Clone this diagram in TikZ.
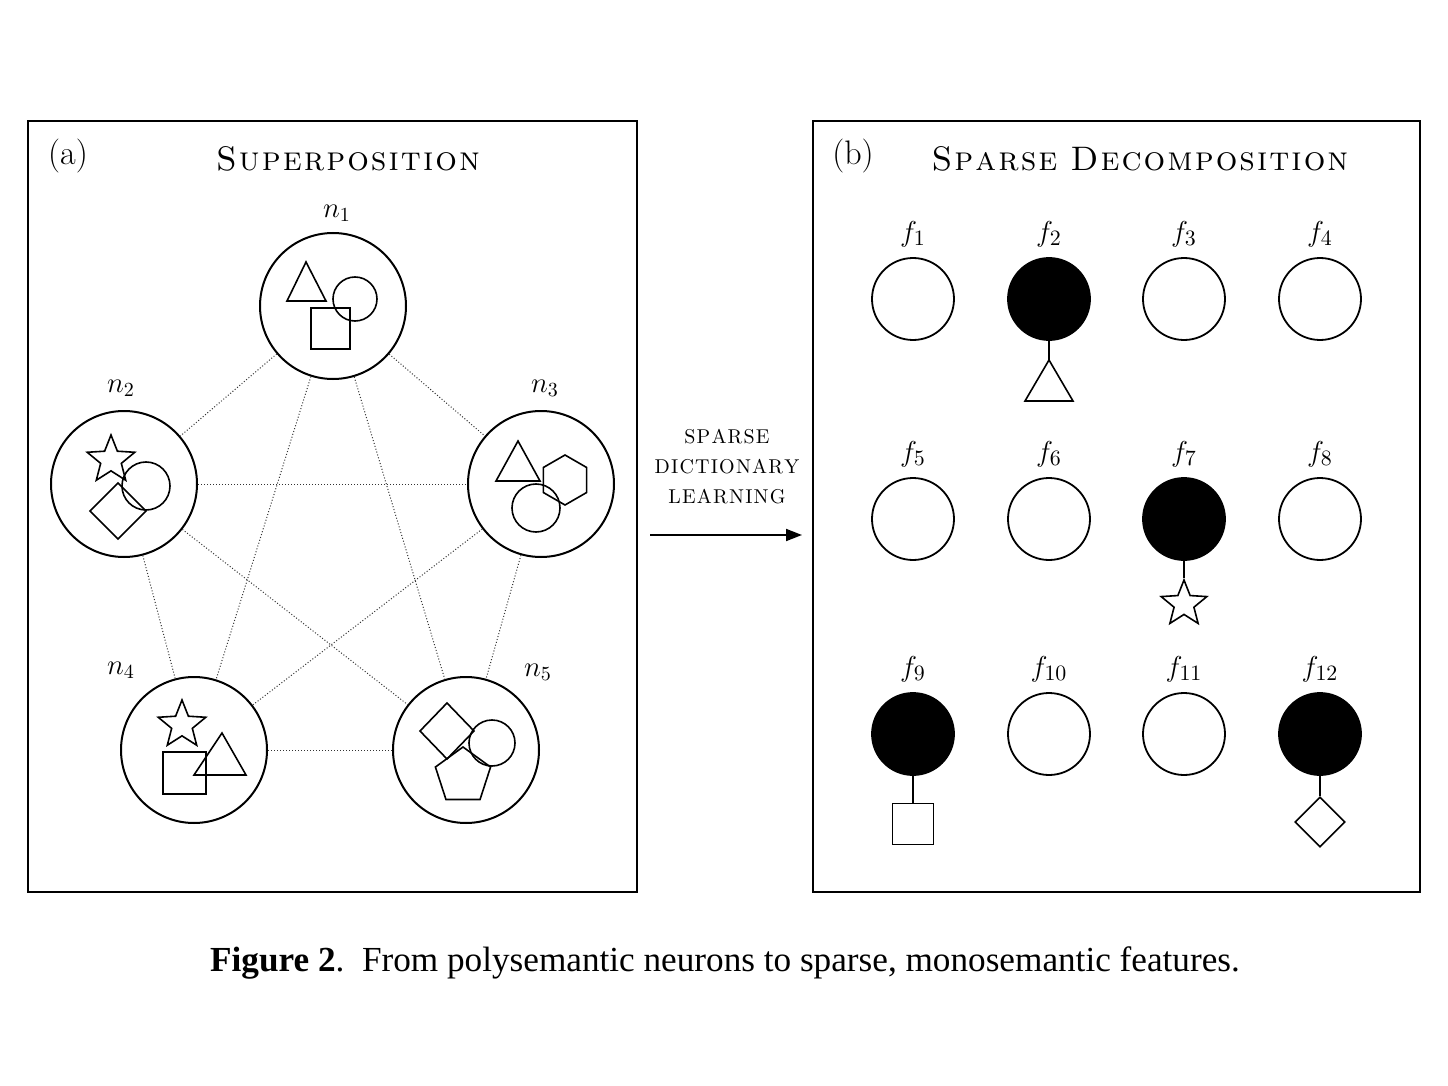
\documentclass[tikz,border=0pt]{standalone}
\usepackage{fontspec}
\newfontfamily\capfont{Liberation Serif}
\usetikzlibrary{shapes.geometric,arrows.meta}
\newcommand{\lsp}[1]{\kern0.06em#1}
\begin{document}
\begin{tikzpicture}[x=0.5pt,y=-0.5pt,
 neuron/.style={circle,draw,line width=1pt,minimum size=73pt,inner sep=0pt},
 feat/.style={circle,draw,line width=0.9pt,minimum size=41pt,inner sep=0pt},
 on/.style={fill=black},
 sh/.style={line width=0.8pt},
 edge/.style={densely dotted,line width=0.5pt,black!80},
 lab/.style={font=\fontsize{14}{14}\selectfont},
 flab/.style={font=\fontsize{15}{15}\selectfont},
 title/.style={font=\fontsize{17}{17}\selectfont\scshape}]
\useasboundingbox (0,0) rectangle (1448,1086);
\fill[white] (0,0) rectangle (1448,1086);
\draw[line width=0.9pt] (28,121) rectangle (637,892);
\draw[line width=0.9pt] (813,121) rectangle (1420,892);
\node[font=\fontsize{17}{17}\selectfont] (la) at (68,156) {(a)};
\node[font=\fontsize{17}{17}\selectfont] (lb) at (853,156) {(b)};
\node[title] (ta) at (348,159) {S\lsp{u}\lsp{p}\lsp{e}\lsp{r}\lsp{p}\lsp{o}\lsp{s}\lsp{i}\lsp{t}\lsp{i}\lsp{o}\lsp{n}};
\node[title] (tb) at (1140,159) {S\lsp{p}\lsp{a}\lsp{r}\lsp{s}\lsp{e} D\lsp{e}\lsp{c}\lsp{o}\lsp{m}\lsp{p}\lsp{o}\lsp{s}\lsp{i}\lsp{t}\lsp{i}\lsp{o}\lsp{n}};
% neurons
\node[neuron] (n1) at (333,306) {};
\node[neuron] (n2) at (124,484) {};
\node[neuron] (n3) at (541,484) {};
\node[neuron] (n4) at (194,750) {};
\node[neuron] (n5) at (466,750) {};
\node[lab] at (337,213) {$n_1$};
\node[lab] at (121,388) {$n_2$};
\node[lab] at (545,388) {$n_3$};
\node[lab] at (121,670) {$n_4$};
\node[lab] at (538,672) {$n_5$};
\foreach \a/\b in {n1/n2,n1/n3,n1/n4,n1/n5,n2/n3,n2/n4,n2/n5,n3/n4,n3/n5,n4/n5}
  \draw[edge] (\a) -- (\b);
% n1 contents
\draw[sh] (306,262) -- (326,301) -- (287,301) -- cycle;
\draw[sh] (355,299) circle[radius=22];
\draw[sh] (311,308) rectangle (350,349);
% n2
\draw[sh] (146,486) circle[radius=24];
\node[star,star points=5,star point ratio=2.3,draw,sh,minimum size=25pt,inner sep=0pt] (s2) at (111,460) {};
\draw[sh] (118,483) -- (146,511) -- (118,539) -- (90,511) -- cycle;
% n3
\draw[sh] (518,441) -- (540,481) -- (496,481) -- cycle;
\node[regular polygon,regular polygon sides=6,draw,sh,minimum size=25pt,inner sep=0pt,rotate=30] (h3) at (565,480) {};
\draw[sh] (536,508) circle[radius=24];
% n4
\node[star,star points=5,star point ratio=2.3,draw,sh,minimum size=25pt,inner sep=0pt] (s4) at (182,725) {};
\draw[sh] (163,752) rectangle (206,794);
\draw[sh] (222,733) -- (246,775) -- (194,775) -- cycle;
% n5
\draw[sh] (447,703) -- (474,731) -- (447,759) -- (420,731) -- cycle;
\draw[sh] (492,743) circle[radius=23];
\node[regular polygon,regular polygon sides=5,draw,sh,minimum size=29pt,inner sep=0pt] (p5) at (463,776) {};
% arrow
\node[font=\fontsize{10}{15}\selectfont,align=center] (al) at (727,467) {S\lsp{P}\lsp{A}\lsp{R}\lsp{S}\lsp{E}\\D\lsp{I}\lsp{C}\lsp{T}\lsp{I}\lsp{O}\lsp{N}\lsp{A}\lsp{R}\lsp{Y}\\L\lsp{E}\lsp{A}\lsp{R}\lsp{N}\lsp{I}\lsp{N}\lsp{G}};
\coordinate (a0) at (650,535); \coordinate (a1) at (802,535);
\draw[line width=0.9pt,-{Triangle[length=8pt,width=6pt]}] (a0) -- (a1);
% features
\foreach \i/\x/\y/\s in {1/913/299/,2/1049/299/on,3/1184/299/,4/1320/299/,
  5/913/519/,6/1049/519/,7/1184/519/on,8/1320/519/,
  9/913/734/on,10/1049/734/,11/1184/734/,12/1320/734/on}{
  \node[feat,\s] (f\i) at (\x,\y) {};
  \node[flab] at (\x,\y-65) {$f_{\i}$};
}
% attachments
\coordinate (t2) at (1049,360);
\draw[sh] (f2) -- (t2);
\draw[sh] (t2) -- (1073,401) -- (1025,401) -- cycle;
\node[star,star points=5,star point ratio=2.3,draw,sh,minimum size=24pt,inner sep=0pt] (st7) at (1184,604) {};
\draw[sh] (f7) -- (st7);
\node[draw,sh,minimum size=20.5pt,inner sep=0pt] (sq9) at (913,824) {};
\draw[sh] (f9) -- (sq9);
\node[diamond,draw,sh,minimum size=25pt,inner sep=0pt] (d12) at (1320,822) {};
\draw[sh] (f12) -- (d12);
% caption
\node[font=\capfont\fontsize{17.6}{17.6}\selectfont] (cap) at (725,963) {\textbf{Figure 2}.\ \ From polysemantic neurons to sparse, monosemantic features.};
\end{tikzpicture}
\end{document}
